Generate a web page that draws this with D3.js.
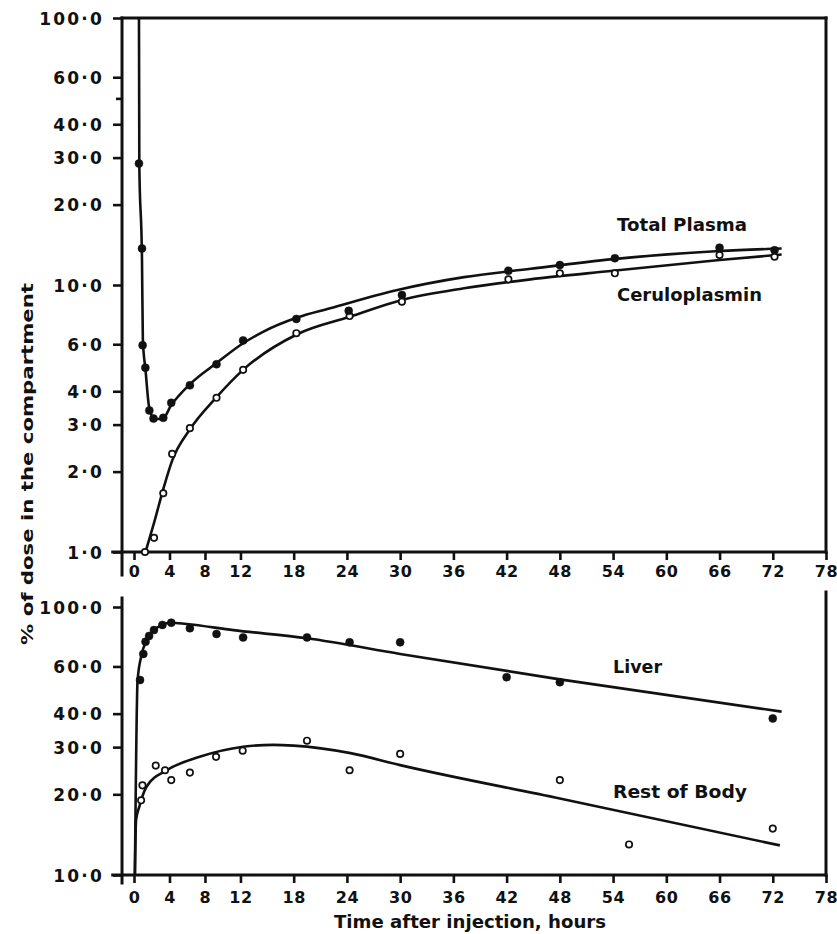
<!DOCTYPE html>
<html>
<head>
<meta charset="utf-8">
<script src="https://cdn.jsdelivr.net/npm/d3@7"></script>
<style>
  html, body { margin: 0; padding: 0; background: #fff; }
  svg { display: block; }
  text { font-family: "DejaVu Sans", sans-serif; font-weight: bold; fill: #111; }
</style>
</head>
<body>
<script>
// ---------- data ----------
const xTicks = [0, 4, 8, 12, 18, 24, 30, 36, 42, 48, 54, 60, 66, 72, 78];
const topYTicks = [100, 60, 40, 30, 20, 10, 6, 4, 3, 2, 1];
const topYLabels = ["100·0", "60·0", "40·0", "30·0", "20·0", "10·0", "6·0", "4·0", "3·0", "2·0", "1·0"];
const topYMinor = [50];
const botYTicks = [100, 60, 40, 30, 20, 10];
const botYLabels = ["100·0", "60·0", "40·0", "30·0", "20·0", "10·0"];

// Total plasma (filled points)
const plasmaT = [0.56, 0.9, 0.97, 1.28, 1.73, 2.2, 3.3, 4.2, 6.3, 9.3, 12.3, 18.3, 24.2, 30.2, 42.2, 48, 54.2, 66, 72.2];
const plasmaV = [28.5, 13.7, 5.95, 4.9, 3.39, 3.16, 3.18, 3.62, 4.21, 5.05, 6.2, 7.46, 8.0, 9.17, 11.3, 11.88, 12.6, 13.8, 13.5];
// Ceruloplasmin (open points)
const ceruloT = [1.24, 2.26, 3.3, 4.3, 6.3, 9.3, 12.3, 18.3, 24.3, 30.2, 42.2, 48, 54.2, 66, 72.2];
const ceruloV = [1.0, 1.13, 1.66, 2.33, 2.91, 3.78, 4.81, 6.6, 7.65, 8.66, 10.5, 11.06, 11.06, 12.95, 12.76];
// fitted curves
const plasmaCurveT = [0.56, 0.6, 0.9, 1.0, 1.3, 1.7, 2.3, 3.2, 4.2, 6.3, 9.3, 12.3, 14.6, 18.4, 22.1, 29.7, 37.2, 44.7, 54, 66, 73];
const plasmaCurveV = [100, 28, 12.5, 6.2, 4.8, 3.5, 3.15, 3.15, 3.55, 4.25, 5.1, 6.05, 6.69, 7.55, 8.18, 9.58, 10.7, 11.5, 12.5, 13.4, 13.7];
const ceruloCurveT = [1.3, 2.3, 3.3, 4.3, 6.3, 9.3, 12.3, 18.4, 24.3, 30.2, 37.2, 44.7, 54, 66, 73];
const ceruloCurveV = [1.0, 1.3, 1.72, 2.2, 2.88, 3.8, 4.81, 6.54, 7.6, 8.79, 9.72, 10.5, 11.3, 12.4, 13.0];

// Liver (filled points)
const liverT = [0.68, 1.05, 1.3, 1.7, 2.25, 3.2, 4.2, 6.3, 9.3, 12.3, 19.5, 24.3, 30, 42, 48, 72];
const liverV = [53.4, 66.8, 74.2, 78, 82, 85.7, 87.4, 83.3, 79.3, 77, 77, 73.8, 73.8, 54.7, 52.4, 38.4];
// Rest of body (open points)
const restT = [0.8, 0.95, 2.45, 3.5, 4.2, 6.3, 9.25, 12.25, 19.5, 24.3, 30, 48, 55.8, 72];
const restV = [19, 21.6, 25.6, 24.6, 22.6, 24.1, 27.6, 29.1, 31.7, 24.6, 28.3, 22.6, 13.0, 14.9];
const liverCurveT = [0.1, 0.4, 0.85, 1.43, 2.5, 4.2, 5.9, 11.2, 19.5, 30, 48, 73];
const liverCurveV = [10, 53, 66.2, 75.3, 83.3, 87.4, 86.4, 82, 76.4, 66.8, 53.7, 40.7];
const restCurveT = [0.1, 0.23, 0.6, 1.43, 3.7, 7.4, 12.3, 15.7, 18, 24.4, 30, 48, 72.8];
const restCurveV = [10, 16, 18, 21.4, 24.6, 27.6, 30.1, 30.6, 30.4, 28.5, 25.7, 19.3, 12.9];

// ---------- drawing ----------
const W = 837, H = 934;
const svg = d3.select("body").append("svg").attr("width", W).attr("height", H);

const x = d3.scaleLinear().domain([0, 78]).range([134, 826]);
const yTop = d3.scaleLog().domain([1, 100]).range([552, 18]);
const yBot = d3.scaleLog().domain([10, 100]).range([875, 607]);

const AX = 3; // axis stroke width
const yAxisT = -1.35; // position of the y axis line in hours

function zip(t, v) { return t.map((d, i) => [d, v[i]]); }

function drawLine(g, x1, y1, x2, y2, w) {
  g.append("line").attr("x1", x1).attr("y1", y1).attr("x2", x2).attr("y2", y2)
    .attr("stroke", "#111").attr("stroke-width", w || AX).attr("stroke-linecap", "square");
}

function styleAxis(g, fs, ls) {
  g.select(".domain").remove();
  g.selectAll(".tick line").attr("stroke", "#111").attr("stroke-width", 2.6);
  g.selectAll(".tick text").attr("font-family", "DejaVu Sans").attr("font-weight", "bold")
    .attr("font-size", fs).style("letter-spacing", ls + "px").attr("fill", "#111");
}

function panel(y, yTicks, yLabels, minor, xLabelPad, topBorder, rightTop, yAxisTop, yAxisBottom) {
  const g = svg.append("g");
  const x0 = x(yAxisT);
  // y axis ticks + labels
  const ya = g.append("g").attr("transform", `translate(${x0},0)`)
    .call(d3.axisLeft(y).tickValues(yTicks).tickSize(9).tickPadding(9)
      .tickFormat((d, i) => yLabels[i]));
  styleAxis(ya, 17, 2.2);
  ya.selectAll(".tick text").attr("dy", "0.36em");
  if (minor.length) {
    const ym = g.append("g").attr("transform", `translate(${x0},0)`)
      .call(d3.axisLeft(y).tickValues(minor).tickSize(6).tickFormat(""));
    styleAxis(ym, 17, 0);
  }
  // x axis
  const yBase = y.range()[0];
  const xa = g.append("g").attr("transform", `translate(0,${yBase})`)
    .call(d3.axisBottom(x).tickValues(xTicks).tickSize(8).tickPadding(xLabelPad));
  styleAxis(xa, 16, 0.6);
  // axis lines
  drawLine(g, x(-2.4), yBase, x(78), yBase);
  drawLine(g, x0, yAxisTop, x0, yAxisBottom);
  if (topBorder) drawLine(g, x0, y.range()[1], x(78), y.range()[1]);
  drawLine(g, x(78), rightTop, x(78), yBase);
  return g;
}

const gTop = panel(yTop, topYTicks, topYLabels, topYMinor, 6, true, 18, 18, 575);
const gBot = panel(yBot, botYTicks, botYLabels, [], 9, false, 592, 598, 883);

function curve(g, y, t, v) {
  const line = d3.line().x(d => x(d[0])).y(d => y(d[1])).curve(d3.curveMonotoneX);
  g.append("path").datum(zip(t, v)).attr("d", line)
    .attr("fill", "none").attr("stroke", "#111").attr("stroke-width", 2.6)
    .attr("stroke-linejoin", "round");
}
function points(g, y, t, v, filled) {
  g.append("g").selectAll("circle").data(zip(t, v)).join("circle")
    .attr("cx", d => x(d[0])).attr("cy", d => y(d[1]))
    .attr("r", filled ? 4 : 3.2)
    .attr("fill", filled ? "#111" : "#fff")
    .attr("stroke", "#111").attr("stroke-width", filled ? 0.5 : 1.7);
}

curve(gTop, yTop, plasmaCurveT, plasmaCurveV);
curve(gTop, yTop, ceruloCurveT, ceruloCurveV);
points(gTop, yTop, ceruloT, ceruloV, false);
points(gTop, yTop, plasmaT, plasmaV, true);

curve(gBot, yBot, liverCurveT, liverCurveV);
curve(gBot, yBot, restCurveT, restCurveV);
points(gBot, yBot, restT, restV, false);
points(gBot, yBot, liverT, liverV, true);

// series labels
function label(txt, px, py, len) {
  svg.append("text").attr("x", px).attr("y", py).attr("font-size", 17)
    .attr("textLength", len).attr("lengthAdjust", "spacingAndGlyphs").text(txt);
}
label("Total Plasma", 617, 231, 130);
label("Ceruloplasmin", 617, 301, 145);
label("Liver", 613, 673, 49);
label("Rest of Body", 613, 798, 134);

// axis titles
svg.append("text").attr("x", 470).attr("y", 928).attr("text-anchor", "middle")
  .attr("font-size", 17).attr("textLength", 272).attr("lengthAdjust", "spacingAndGlyphs")
  .text("Time after injection, hours");
svg.append("text").attr("transform", "translate(33,464) rotate(-90)")
  .attr("text-anchor", "middle").attr("font-size", 16)
  .attr("textLength", 362).attr("lengthAdjust", "spacingAndGlyphs")
  .text("% of dose in the compartment");
</script>
</body>
</html>
